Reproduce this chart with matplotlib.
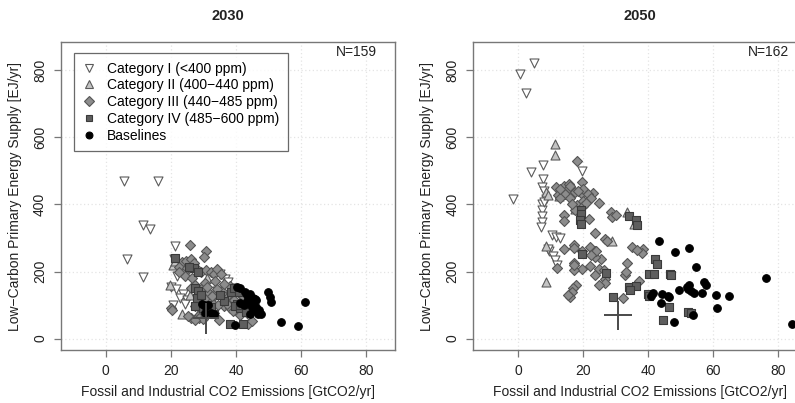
import matplotlib
matplotlib.use("Agg")
import matplotlib.pyplot as plt
from matplotlib.lines import Line2D

plt.rcParams['font.family'] = ['Liberation Sans', 'DejaVu Sans']

# ---- 2030 panel data (x: GtCO2/yr, y: EJ/yr) ----
cat1_2030 = [(5.5, 470), (16, 470), (11.3, 338), (13.7, 326), (6.4, 236), (11.3, 184),
             (21.4, 277), (21.0, 238), (22.0, 186), (20.0, 155), (21.6, 148), (23.6, 134),
             (22.8, 121), (25.1, 114), (35.0, 194), (36.6, 178), (37.5, 168), (38.5, 152),
             (34.2, 142), (24.3, 102), (27.8, 112), (31.5, 120), (20.8, 100)]
cat2_2030 = [(20.8, 218), (19.8, 160), (23.3, 74), (21.3, 230), (25.6, 222), (33.8, 138),
             (36.1, 106), (28.4, 72), (32.3, 126), (24.2, 208), (31.0, 182), (26.0, 130)]
cat3_2030 = [(25.8, 280), (30.7, 260), (30.2, 243), (23.4, 228), (24.6, 232), (26.1, 236),
             (27.1, 224), (22.5, 214), (25.0, 210), (28.2, 206), (29.3, 200), (30.7, 205),
             (32.3, 198), (33.3, 194), (34.2, 208), (35.4, 192), (24.2, 186), (26.6, 180),
             (30.6, 166), (33.5, 172), (29.4, 148), (28.4, 142), (31.4, 138), (33.3, 132),
             (35.6, 142), (36.4, 126), (37.4, 121), (38.4, 110), (39.3, 116), (36.4, 96),
             (38.2, 158), (40.3, 148), (41.2, 132), (42.3, 126), (30.4, 117), (32.4, 110),
             (34.4, 101), (29.4, 103), (27.4, 96), (31.4, 86), (28.3, 68), (26.2, 62),
             (28.6, 60), (30.0, 58), (27.5, 55), (33.4, 76), (34.8, 55), (20.0, 92),
             (20.3, 84), (43.6, 44), (44.8, 52), (38.3, 90), (39.2, 82), (42.3, 86),
             (41.2, 70), (43.5, 75), (37.3, 104), (36.2, 162), (34.2, 148), (31.2, 155),
             (27.3, 160), (26.2, 150), (22.6, 200), (29.0, 125), (25.2, 68), (32.5, 128)]
cat4_2030 = [(21.2, 240), (27.2, 210), (28.3, 200), (27.5, 152), (28.4, 141), (28.0, 120),
             (27.3, 96), (31.2, 100), (30.0, 92), (33.2, 74), (32.4, 95), (38.4, 140),
             (39.3, 150), (40.2, 104), (39.8, 96), (41.2, 90), (38.2, 45), (42.2, 44),
             (41.4, 100), (36.3, 112), (44.2, 104), (35.2, 130), (43.2, 80), (29.2, 130),
             (25.6, 214), (41.0, 140)]
base_2030 = [(29.5, 102), (30.4, 96), (31.3, 100), (32.3, 76), (30.5, 76), (33.3, 72),
             (39.7, 40), (40.2, 155), (41.3, 150), (42.8, 139), (43.3, 129), (44.2, 134),
             (44.0, 105), (45.3, 122), (45.8, 119), (46.3, 115), (44.8, 94), (46.3, 94),
             (47.2, 86), (44.3, 74), (46.8, 74), (47.8, 74), (49.9, 139), (50.5, 124),
             (50.8, 109), (54.0, 50), (59.2, 38), (61.2, 109), (41.3, 106), (42.6, 100),
             (43.5, 112), (45.5, 84)]

# ---- 2050 panel data ----
cat1_2050 = [(-1.7, 417), (0.5, 790), (4.8, 822), (2.4, 732), (3.8, 497), (7.5, 519),
             (7.5, 477), (7.3, 452), (8.5, 417), (7.2, 400), (7.2, 384), (7.2, 367),
             (7.2, 348), (6.9, 333), (10.3, 308), (11.6, 303), (12.8, 300), (9.5, 260),
             (10.6, 246), (11.3, 233), (12.0, 220), (19.5, 500), (8.0, 440), (17.0, 392),
             (18.5, 372), (13.5, 430), (9.2, 268), (8.0, 408)]
cat2_2050 = [(11.3, 579), (11.3, 546), (8.7, 437), (9.2, 427), (8.5, 276), (8.7, 169),
             (14.6, 440), (29.0, 290), (33.4, 377), (12.5, 425), (17.5, 386), (35.5, 343)]
cat3_2050 = [(18.0, 530), (19.5, 466), (23.1, 435), (11.5, 452), (14.1, 455), (15.7, 450),
             (17.4, 437), (19.5, 430), (12.3, 427), (14.3, 432), (16.0, 420), (20.0, 445),
             (21.5, 432), (22.5, 418), (24.9, 403), (18.0, 397), (17.5, 382), (16.5, 400),
             (19.8, 410), (14.1, 370), (14.1, 350), (21.9, 357), (23.6, 316), (28.4, 377),
             (28.9, 362), (26.8, 298), (27.2, 290), (26.8, 178), (26.8, 165), (25.4, 236),
             (24.9, 209), (23.6, 191), (22.1, 216), (22.1, 273), (23.6, 262), (23.6, 242),
             (19.5, 262), (19.5, 209), (17.3, 204), (17.3, 224), (17.3, 278), (17.2, 270),
             (14.1, 266), (12.0, 210), (17.7, 161), (17.0, 150), (16.5, 140), (16.0, 124),
             (15.3, 130), (34.9, 273), (38.3, 268), (38.0, 255), (33.5, 225), (32.8, 189),
             (37.2, 172), (32.3, 122), (17.2, 220), (20.0, 395), (13.0, 420), (15.5, 460),
             (26.5, 205), (24.0, 262), (30.0, 370), (16.0, 455), (18.5, 440), (21.0, 405),
             (13.0, 445), (25.0, 160), (22.5, 250), (33.0, 200), (36.5, 265)]
cat4_2050 = [(44.4, 55), (46.5, 94), (52.3, 78), (46.7, 194), (47.0, 190), (42.0, 236),
             (42.6, 223), (40.2, 194), (41.7, 192), (39.8, 134), (40.2, 128), (34.0, 155),
             (36.1, 158), (34.5, 145), (29.2, 124), (26.9, 197), (19.2, 382), (19.4, 372),
             (19.0, 353), (19.2, 343), (34.2, 365), (36.3, 353), (36.5, 338), (19.5, 253),
             (53.0, 75)]
base_2050 = [(43.4, 291), (48.2, 258), (52.4, 270), (54.6, 213), (76.1, 181), (49.5, 146),
             (51.8, 155), (52.2, 148), (53.0, 142), (54.0, 135), (57.1, 170), (57.9, 160),
             (56.5, 135), (60.8, 130), (64.9, 128), (61.2, 90), (44.3, 134), (46.0, 128),
             (46.5, 123), (43.8, 107), (47.9, 50), (53.8, 71), (84.1, 44), (40.8, 128),
             (52.5, 160), (41.5, 135)]

# historical reference cross (centre and half-widths)
hist_2030 = (30.8, 60, 4.0, 45)
hist_2050 = (30.7, 69, 4.3, 42)

years = ["2030", "2050"]
counts = ["N=159", "N=162"]
labels = ["Category I (<400 ppm)", "Category II (400\u2212440 ppm)",
          "Category III (440\u2212485 ppm)", "Category IV (485\u2212600 ppm)", "Baselines"]

styles = [
    dict(marker='v', facecolor='white', edgecolor='#5a5a5a', s=42),
    dict(marker='^', facecolor='#c4c4c4', edgecolor='#5a5a5a', s=42),
    dict(marker='D', facecolor='#8c8c8c', edgecolor='#555555', s=26),
    dict(marker='s', facecolor='#5e5e5e', edgecolor='#3a3a3a', s=28),
    dict(marker='o', facecolor='black', edgecolor='black', s=30),
]

panels = [
    [cat1_2030, cat2_2030, cat3_2030, cat4_2030, base_2030],
    [cat1_2050, cat2_2050, cat3_2050, cat4_2050, base_2050],
]
crosses = [hist_2030, hist_2050]

fig = plt.figure(figsize=(7.95, 4.03), dpi=100)
# right panel is cut at the figure edge as in the source
ax_left = fig.add_axes([0.0767, 0.1315, 0.4196, 0.764])
ax_right = fig.add_axes([0.5954, 0.1315, 0.4196, 0.764])

edge = '#777777'
for k, ax in enumerate([ax_left, ax_right]):
    ax.set_xlim(-13.8, 88.8)
    ax.set_ylim(-34, 884)
    ax.set_xticks([0, 20, 40, 60, 80])
    ax.set_yticks([0, 200, 400, 600, 800])
    ax.grid(True, linestyle=(0, (1, 2)), color='#e4e4e4', linewidth=0.9)
    ax.set_axisbelow(True)
    for sp in ax.spines.values():
        sp.set_color(edge)
        sp.set_linewidth(1.0)
    ax.tick_params(direction='out', length=5, width=0.9, color=edge,
                   labelsize=10, pad=5, labelcolor='#222222')
    ax.tick_params(axis='y', labelrotation=90)
    for t in ax.get_yticklabels():
        t.set_va('center')

    for data, st in zip(panels[k], styles):
        xs = [p[0] for p in data]
        ys = [p[1] for p in data]
        ax.scatter(xs, ys, marker=st['marker'], s=st['s'], facecolors=st['facecolor'],
                   edgecolors=st['edgecolor'], linewidths=0.8, zorder=3)

    cx, cy, ex, ey = crosses[k]
    ax.errorbar([cx], [cy], xerr=[ex], yerr=[ey], fmt='none', ecolor='#4a4a4a',
                elinewidth=1.4, capsize=0, zorder=4)

    ax.text(0.5, 1.084, years[k], transform=ax.transAxes, ha='center', va='center',
            fontsize=10.5, fontweight='bold', color='#222222')
    ax.text(0.946, 0.968, counts[k], transform=ax.transAxes, ha='right', va='center',
            fontsize=10, color='#222222')
    ax.set_xlabel("Fossil and Industrial CO2 Emissions [GtCO2/yr]", fontsize=10,
                  va='center', color='#222222')
    ax.xaxis.set_label_coords(0.5, -0.136)
    ax.set_ylabel("Low\u2212Carbon Primary Energy Supply [EJ/yr]", fontsize=10,
                  va='center', color='#222222')
    ax.yaxis.set_label_coords(-0.138, 0.5)

handles = [Line2D([], [], linestyle='none', marker=st['marker'],
                  markersize=(st['s'] ** 0.5) * 0.9,
                  markerfacecolor=st['facecolor'], markeredgecolor=st['edgecolor'],
                  markeredgewidth=0.8) for st in styles]
leg = ax_left.legend(handles, labels, loc='upper left', bbox_to_anchor=(0.039, 0.964),
                     borderaxespad=0, fontsize=10, frameon=True, fancybox=False,
                     handlelength=1.0, handletextpad=0.8, labelspacing=0.2,
                     borderpad=0.6)
leg.get_frame().set_edgecolor('#444444')
leg.get_frame().set_linewidth(0.9)

fig.savefig("out.png", dpi=100)
